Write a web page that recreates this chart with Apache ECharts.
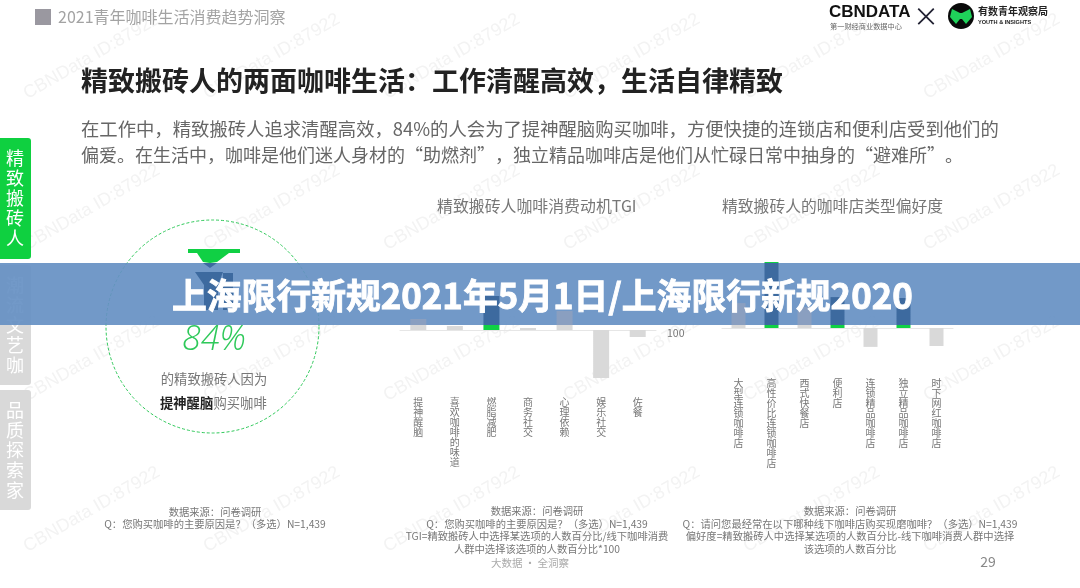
<!DOCTYPE html>
<html><head><meta charset="utf-8">
<style>html,body{margin:0;padding:0;background:#fff}#c{width:1080px;height:588px}</style>
<script src="https://cdn.jsdelivr.net/npm/echarts@6/dist/echarts.min.js"></script>
</head><body><div id="c"></div>
<script>
const tgiCategories = ['提神醒脑','喜欢咖啡的味道','燃脂减肥','商务社交','心理依赖','娱乐社交','佐餐'];
const tgiValues = [111,104,134,102,119,52,93];
const tgiHighlight = [2];
const shopCategories = ['大型连锁咖啡店','高性价比连锁咖啡店','西式快餐店','便利店','连锁精品咖啡店','独立精品咖啡店','时下网红咖啡店'];
const shopValues = [8.3,22,7,10.3,-6.3,10,-6];
const shopHighlight = [1,3,5];
const tabs = ['精\n致\n搬\n砖\n人','潮\n流\n文\n艺\n咖','品\n质\n探\n索\n家'];
const bodyLines = ['在工作中，精致搬砖人追求清醒高效，84%的人会为了提神醒脑购买咖啡，方便快捷的连锁店和便利店受到他们的','偏爱。在生活中，咖啡是他们迷人身材的“助燃剂”，独立精品咖啡店是他们从忙碌日常中抽身的“避难所”。'];
const bodySizes = [18.35,18];
const foot1 = ['数据来源：问卷调研','Q：您购买咖啡的主要原因是？（多选）N=1,439'];
const foot2 = ['数据来源：问卷调研','Q：您购买咖啡的主要原因是？（多选）N=1,439','TGI=精致搬砖人中选择某选项的人数百分比/线下咖啡消费','人群中选择该选项的人数百分比*100'];
const foot3 = ['数据来源：问卷调研','Q：请问您最经常在以下哪种线下咖啡店购买现磨咖啡？（多选）N=1,439','偏好度=精致搬砖人中选择某选项的人数百分比-线下咖啡消费人群中选择','该选项的人数百分比'];

const CJK = '"Noto Sans CJK SC","Noto Sans",sans-serif';
const H = 588, bandTop = 263, bandBottom = 325;
function banded(outside, inside){
  const a = bandTop/H, b = bandBottom/H;
  return {type:'linear',x:0,y:0,x2:0,y2:H,global:true,colorStops:[
    {offset:0,color:outside},{offset:a,color:outside},{offset:a,color:inside},
    {offset:b,color:inside},{offset:b,color:outside},{offset:1,color:outside}]};
}
const green = banded('#10d044','#3d6a9f');
const grey = banded('#d9d9d9','#8a9fc0');
function barData(vals, hi, base){
  return vals.map((v,i)=>({value:v-base,itemStyle:{color:hi.includes(i)?green:grey}}));
}
function txt(x,y,text,size,fill,extra){
  return {type:'text',x,y,z:(extra&&extra.zz)||5,silent:true,style:Object.assign({text,fontSize:size,fill,fontFamily:CJK,textAlign:'left',textVerticalAlign:'middle'},extra||{})};
}
const g = [];
for(let c=0;c<6;c++)for(let r=0;r<4;r++){
  g.push({type:'text',x:25+c*180,y:95+r*151,rotation:Math.PI/6,z:0,silent:true,
    style:{text:'CBNData ID:87922',fontSize:18,fill:'#f3f3f3',fontFamily:'"Liberation Sans",sans-serif',textVerticalAlign:'middle'}});
}
g.push({type:'rect',z:1,shape:{x:35,y:9,width:16,height:16},style:{fill:'#9a98a0'}});
g.push(txt(58,17,'2021青年咖啡生活消费趋势洞察',16,'#a3a3a3'));
g.push(txt(81,81,'精致搬砖人的两面咖啡生活：工作清醒高效，生活自律精致',27,'#222',{fontWeight:'bold'}));
bodyLines.forEach((t,i)=>g.push(txt(81,129+i*26,t,bodySizes[i],'#666')));
// side tabs
[[138,'#0fd040'],[265,'#d9d9d9'],[390,'#d9d9d9']].forEach((t,i)=>{
  g.push({type:'rect',z:1,shape:{x:-6,y:t[0],width:37,height:i==0?121:120,r:3},style:{fill:t[1]}});
  g.push(txt(15,t[0]+60,tabs[i],18,'#fff',{textAlign:'center',lineHeight:20,zz:1.2}));
});
// circle + icon
g.push({type:'circle',z:1,shape:{cx:212.5,cy:326.5,r:106.5},style:{fill:'none',stroke:'#2fc95a',lineWidth:1,lineDash:[3,2]}});
g.push({type:'rect',z:3,shape:{x:188,y:249,width:52,height:4},style:{fill:'#10d044'}});
g.push({type:'polygon',z:3,shape:{points:[[197,253],[229,253],[217,262],[210,263],[203,262]]},style:{fill:'#10d044'}});
g.push({type:'polygon',z:3,shape:{points:[[203,263],[217,263],[210,268]]},style:{fill:'#3d6a9f'}});
g.push({type:'polygon',z:3,shape:{points:[[195,272],[223,272],[218,285],[218,310],[204,310],[204,285]]},style:{fill:'#3d6a9f'}});
g.push({type:'rect',z:3,shape:{x:223,y:273,width:10,height:37},style:{fill:'#3d6a9f'}});
g.push(txt(214,340,'84%',34,'#2fc95a',{textAlign:'center',fontStyle:'italic',fontFamily:'"Open Sans",sans-serif',fontWeight:300}));
g.push(txt(214,379,'的精致搬砖人因为',13.3,'#777',{textAlign:'center'}));
g.push(txt(160,403,'提神醒脑',13.3,'#222',{fontWeight:'bold'}));
g.push(txt(213.5,403,'购买咖啡',13.3,'#777'));
// band
g.push({type:'rect',z:1.5,shape:{x:0,y:bandTop,width:1080,height:bandBottom-bandTop},style:{fill:'rgba(102,144,195,0.92)'}});
g.push(txt(172,296,'上海限行新规2021年5月1日/上海限行新规2020',34.8,'#fff',{fontWeight:'bold',zz:20,stroke:'#fff',lineWidth:0.9}));
// axis label 100
g.push(txt(667,333,'100',10.5,'#777'));
// footers
function foot(lines,cx,y0){lines.forEach((t,i)=>g.push(txt(cx,y0+i*12.5,t,10.3,'#777',{textAlign:'center'})));}
foot(foot1,215,512); foot(foot2,537,511.5); foot(foot3,850,511.5);
g.push(txt(530,563,'大数据 · 全洞察',10.5,'#aaa',{textAlign:'center'}));
g.push(txt(988,562,'29',14,'#888',{textAlign:'center'}));
// logos
g.push(txt(829,12,'CBNDATA',17,'#111',{fontWeight:'bold',fontFamily:'"Liberation Sans",sans-serif'}));
g.push(txt(830,26,'第一财经商业数据中心',7.2,'#666'));
g.push(txt(926,16,'×',26,'#223',{textAlign:'center'}));
g.push({type:'circle',z:3,shape:{cx:961,cy:16,r:13},style:{fill:'#0a0a0a'}});
g.push({type:'polygon',z:4,shape:{points:[[952,9],[960,13],[962,13],[970,9],[972,17],[966,24],[962,19],[960,19],[956,24],[950,17]]},style:{fill:'#1fd25a'}});
g.push(txt(978,11,'有数青年观察局',10,'#222',{fontWeight:'bold'}));
g.push(txt(978,22,'YOUTH & INSIGHTS',5.6,'#222',{fontWeight:'bold',fontFamily:'"Liberation Sans",sans-serif'}));

function catAxis(idx,cats,margin){
  return {type:'category',gridIndex:idx,data:cats,position:'bottom',
    axisLine:{onZero:true,lineStyle:{color:'#e6e6e6',width:1}},axisTick:{show:false},
    axisLabel:{interval:0,margin,fontSize:10,lineHeight:10,color:'#777',fontFamily:CJK,verticalAlign:'top',
      formatter:v=>v.split('').join('\n')}};
}
function valAxis(idx,min,max){
  return {type:'value',gridIndex:idx,min,max,show:false,splitLine:{show:false}};
}
const chart = echarts.init(document.getElementById('c'),null,{renderer:'canvas'});
chart.setOption({
  animation:false,
  backgroundColor:'#fff',
  title:[
    {text:'精致搬砖人咖啡消费动机TGI',left:432,top:193,textStyle:{fontSize:15.9,fontWeight:'normal',color:'#777',fontFamily:CJK}},
    {text:'精致搬砖人的咖啡店类型偏好度',left:717,top:193,textStyle:{fontSize:15.8,fontWeight:'normal',color:'#777',fontFamily:CJK}}
  ],
  grid:[
    {left:400,width:256,top:230,height:160},
    {left:722,width:231,top:238,height:120}
  ],
  xAxis:[catAxis(0,tgiCategories,7),catAxis(1,shopCategories,20)],
  yAxis:[valAxis(0,-60,100),valAxis(1,-10,30)],
  graphic:{elements:g},
  series:[
    {type:'bar',xAxisIndex:0,yAxisIndex:0,barWidth:16,z:2,data:barData(tgiValues,tgiHighlight,100)},
    {type:'bar',xAxisIndex:1,yAxisIndex:1,barWidth:14,z:2,data:barData(shopValues,shopHighlight,0)}
  ]
});
</script></body></html>
